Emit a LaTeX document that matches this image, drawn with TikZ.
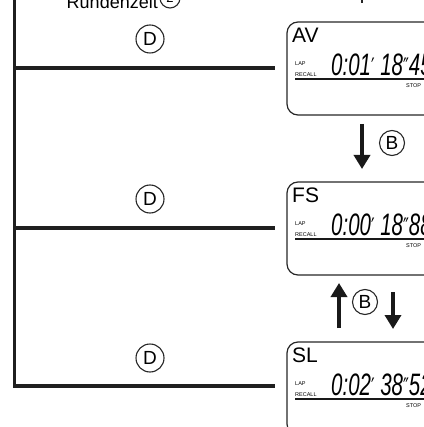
\documentclass[tikz,border=0pt]{standalone}
\usepackage{fontspec}
\usepackage{graphicx}
\setmainfont{Liberation Sans}
\newfontfamily\dvfont{DejaVu Sans}
\usetikzlibrary{arrows.meta}
\newcommand{\pmk}[1]{{\dvfont\fontsize{24}{24}\selectfont\upshape #1}}
\begin{document}
\begin{tikzpicture}[x=1pt,y=-1pt,
  mainline/.style={line width=3.4pt, draw=black!88},
  circlbl/.style={circle, draw=black!85, line width=1.1pt, inner sep=0pt, minimum size=28pt, font=\fontsize{19}{19}\selectfont},
  disp/.style={line width=1.2pt, draw=black!85, rounded corners=11pt},
  modelbl/.style={anchor=north west, inner sep=0pt, font=\fontsize{21}{21}\selectfont},
  tinytxt/.style={inner sep=0pt, font=\fontsize{5.5}{5.5}\selectfont, anchor=west},
  digits/.style={anchor=base west, inner sep=0pt, font=\fontsize{31}{31}\selectfont\itshape},
  uline/.style={line width=1.2pt, draw=black!90},
  bigarrow/.style={line width=3.6pt, -{Triangle[width=16pt,length=14pt]}, draw=black!90}
]
\useasboundingbox (0,0) rectangle (423,427);

% header text (cut at top)
\node[anchor=base east, inner sep=0pt, font=\fontsize{18}{18}\selectfont] (rz) at (158,8.5) {Rundenzeit};
\node[circlbl, minimum size=20pt, font=\fontsize{13}{13}\selectfont] (two) at (170,-2) {2};
\coordinate (dt1) at (362,-3);
\coordinate (dt2) at (362,3);
\draw[line width=2.5pt, black!85] (dt1) -- (dt2);

% main bracket lines
\coordinate (top) at (14.5,-5);
\coordinate (c1) at (14.5,68);
\coordinate (c2) at (14.5,228);
\coordinate (c3) at (14.5,386);
\coordinate (e1) at (275,68);
\coordinate (e2) at (275,228);
\coordinate (e3) at (275,386);
\draw[mainline] (top) -- (c3) -- (e3);
\draw[mainline] (c1) -- (e1);
\draw[mainline] (c2) -- (e2);

% circled D
\node[circlbl] (d1) at (150,39) {D};
\node[circlbl] (d2) at (150,199) {D};
\node[circlbl] (d3) at (150,358) {D};

% displays
\foreach \T/\lab/\dig [count=\i] in {
   22/AV/{0:01\pmk{′} 18\pmk{″}45},
   182/FS/{0:00\pmk{′} 18\pmk{″}88},
   342/SL/{0:02\pmk{′} 38\pmk{″}52}}{
  \coordinate (bl\i) at (287,\T+93);
  \draw[disp] (445,\T) -- (287,\T) -- (bl\i) -- (445,\T+93);
  \node[modelbl] (lab\i) at (292,\T+6) {\lab};
  \node[tinytxt] (lap\i) at (295,\T+42) {LAP};
  \node[tinytxt] (rec\i) at (295,\T+53) {RECALL};
  \node[digits] (dig\i) at (331,\T+53.5) {\scalebox{0.66}[1]{\dig}};
  \coordinate (ul\i) at (295,\T+57);
  \coordinate (ur\i) at (445,\T+57);
  \draw[uline] (ul\i) -- (ur\i);
  \node[tinytxt] (stop\i) at (406,\T+63.5) {STOP};
}

% arrows and B
\coordinate (a1s) at (362,124);
\coordinate (a1e) at (362,169);
\draw[bigarrow] (a1s) -- (a1e);
\node[circlbl, minimum size=25pt] (b1) at (392,143) {B};

\coordinate (a2s) at (339,328);
\coordinate (a2e) at (339,283);
\draw[bigarrow] (a2s) -- (a2e);
\node[circlbl, minimum size=25pt] (b2) at (365,302) {B};
\coordinate (a3s) at (393,292);
\coordinate (a3e) at (393,329);
\draw[bigarrow] (a3s) -- (a3e);
\end{tikzpicture}
\end{document}
